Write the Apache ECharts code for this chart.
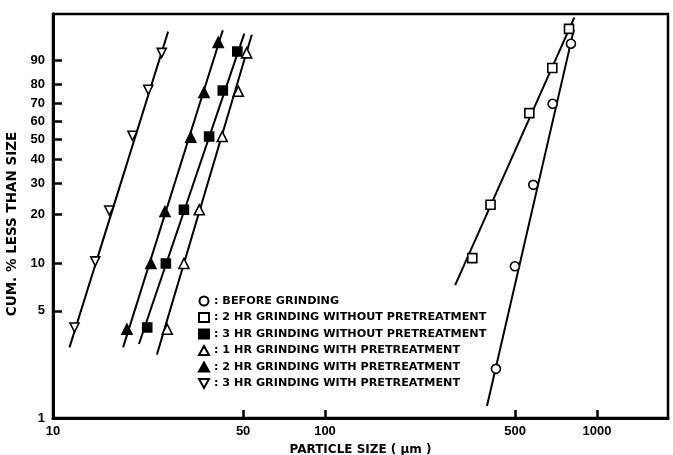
<!DOCTYPE html>
<html>
<head>
<meta charset="utf-8">
<script src="https://cdn.jsdelivr.net/npm/echarts@6/dist/echarts.min.js"></script>
<style>
    html, body { margin: 0; padding: 0; background: #fff; }
    #chart { width: 673px; height: 455px; }
</style>
</head>
<body>
<div id="chart"></div>
<script>
    // tick labels
    var xTickValues = [10, 50, 100, 500, 1000];
    var yTickPercents = [1, 5, 10, 20, 30, 40, 50, 60, 70, 80, 90];

    // legend names
    var seriesNames = [
        'BEFORE GRINDING',
        '2 HR GRINDING WITHOUT PRETREATMENT',
        '3 HR GRINDING WITHOUT PRETREATMENT',
        '1 HR GRINDING WITH PRETREATMENT',
        '2 HR GRINDING WITH PRETREATMENT',
        '3 HR GRINDING WITH PRETREATMENT'
    ];

    // measured points: size (um), cumulative % less than size
    var before_size = [802, 687, 583, 499, 425];
    var before_pct = [94.9, 69.7, 29.4, 9.6, 2.1];
    var hr2wo_size = [789, 685, 564, 406, 348];
    var hr2wo_pct = [97.6, 87.2, 64.5, 22.7, 10.8];
    var hr3wo_size = [47.6, 42.1, 37.5, 30.3, 26.0, 22.2];
    var hr3wo_pct = [92.9, 76.8, 51.6, 21.2, 10.0, 3.9];
    var hr1w_size = [51.5, 48.0, 41.9, 34.5, 30.3, 26.3];
    var hr1w_pct = [92.5, 76.4, 51.6, 21.2, 10.0, 3.8];
    var hr2w_size = [40.5, 35.9, 32.1, 25.8, 22.9, 18.7];
    var hr2w_pct = [95.2, 75.8, 51.3, 20.7, 10.0, 3.8];
    var hr3w_size = [25.1, 22.4, 19.6, 16.1, 14.3, 12.0];
    var hr3w_pct = [92.5, 77.2, 52.0, 21.0, 10.3, 3.9];

    // fitted lines: [bottom, top] end points
    var before_line_size = [394, 822];
    var before_line_pct = [1.2, 97.5];
    var hr2wo_line_size = [301, 825];
    var hr2wo_line_pct = [7.3, 98.8];
    var hr3wo_line_size = [20.7, 50.5];
    var hr3wo_line_pct = [3.05, 96.9];
    var hr1w_line_size = [24.1, 53.8];
    var hr1w_line_pct = [2.6, 96.7];
    var hr2w_line_size = [18.1, 42.1];
    var hr2w_line_pct = [2.9, 97.4];
    var hr3w_line_size = [11.5, 26.5];
    var hr3w_line_pct = [2.9, 97.2];

    // Rosin-Rammler ordinate: log10(-ln(1 - F))
    function rr(p) {
        return Math.log10(-Math.log(1 - p / 100));
    }
    function pairs(xs, ps) {
        return xs.map(function (x, i) { return [x, rr(ps[i])]; });
    }

    var ink = '#000';
    var font = 'Liberation Sans, Arial, sans-serif';
    var wide = 'DejaVu Sans, sans-serif';

    var markers = [
        { size: before_size, pct: before_pct, symbol: 'circle', fill: '#fff' },
        { size: hr2wo_size, pct: hr2wo_pct, symbol: 'rect', fill: '#fff' },
        { size: hr3wo_size, pct: hr3wo_pct, symbol: 'rect', fill: ink },
        { size: hr1w_size, pct: hr1w_pct, symbol: 'triangle', fill: '#fff' },
        { size: hr2w_size, pct: hr2w_pct, symbol: 'triangle', fill: ink },
        { size: hr3w_size, pct: hr3w_pct, symbol: 'path://M0,0 L10,0 L5,9 Z', fill: '#fff' }
    ];
    var lines = [
        [before_line_size, before_line_pct],
        [hr2wo_line_size, hr2wo_line_pct],
        [hr3wo_line_size, hr3wo_line_pct],
        [hr1w_line_size, hr1w_line_pct],
        [hr2w_line_size, hr2w_line_pct],
        [hr3w_line_size, hr3w_line_pct]
    ];

    var series = [];
    lines.forEach(function (l) {
        series.push({
            type: 'line',
            data: pairs(l[0], l[1]),
            symbol: 'none',
            silent: true,
            z: 1,
            lineStyle: { color: ink, width: 2 }
        });
    });
    markers.forEach(function (m, i) {
        series.push({
            name: seriesNames[i],
            type: 'scatter',
            data: pairs(m.size, m.pct),
            symbol: m.symbol,
            symbolSize: m.symbol === 'triangle' ? 10 : 9,
            z: 3,
            itemStyle: { color: m.fill, borderColor: ink, borderWidth: 1.6, opacity: 1 }
        });
    });

    var myChart = echarts.init(document.getElementById('chart'));
    myChart.setOption({
        animation: false,
        backgroundColor: '#fff',
        grid: {
            left: 53, right: 5, top: 14, bottom: 37,
            outerBoundsMode: 'none',
            containLabel: false,
            show: true, borderColor: ink, borderWidth: 2.5
        },
        legend: {
            orient: 'vertical',
            left: 193, top: 290,
            itemWidth: 10, itemHeight: 9, itemGap: 4.5,
            data: seriesNames,
            formatter: function (n) { return ': ' + n; },
            textStyle: { fontFamily: wide, fontWeight: 'bold', fontSize: 11.2, color: ink, lineHeight: 12 },
            selectedMode: false
        },
        xAxis: {
            type: 'log',
            min: 10, max: 1824,
            name: 'PARTICLE SIZE ( \u03bcm )',
            nameLocation: 'middle',
            nameGap: 26,
            nameTextStyle: { fontFamily: wide, fontWeight: 'bold', fontSize: 12, color: ink },
            axisLine: { onZero: false, lineStyle: { color: ink, width: 3 } },
            axisTick: { inside: true, length: 8, lineStyle: { color: ink, width: 2.5 }, customValues: xTickValues.slice(1) },
            axisLabel: {
                customValues: xTickValues,
                fontFamily: font, fontWeight: 'bold', fontSize: 13, color: ink, margin: 7,
                formatter: function (v) { return String(Math.round(v)); }
            },
            splitLine: { show: false },
            minorTick: { show: false }
        },
        yAxis: {
            type: 'value',
            min: rr(1), max: 0.67,
            name: 'CUM. % LESS THAN SIZE',
            nameLocation: 'middle',
            nameGap: 27,
            nameTextStyle: { fontFamily: wide, fontWeight: 'bold', fontSize: 13.5, color: ink, padding: [0, 0, 0, -16] },
            axisLine: { show: true, onZero: false, lineStyle: { color: ink, width: 3 } },
            axisTick: { inside: true, length: 9, lineStyle: { color: ink, width: 2.5 }, customValues: yTickPercents.slice(1).map(rr) },
            axisLabel: {
                customValues: yTickPercents.map(rr),
                fontFamily: font, fontWeight: 'bold', fontSize: 13, color: ink, margin: 8,
                formatter: function (v) {
                    return String(Math.round(100 * (1 - Math.exp(-Math.pow(10, v)))));
                }
            },
            splitLine: { show: false }
        },
        series: series
    });
</script>
</body>
</html>
